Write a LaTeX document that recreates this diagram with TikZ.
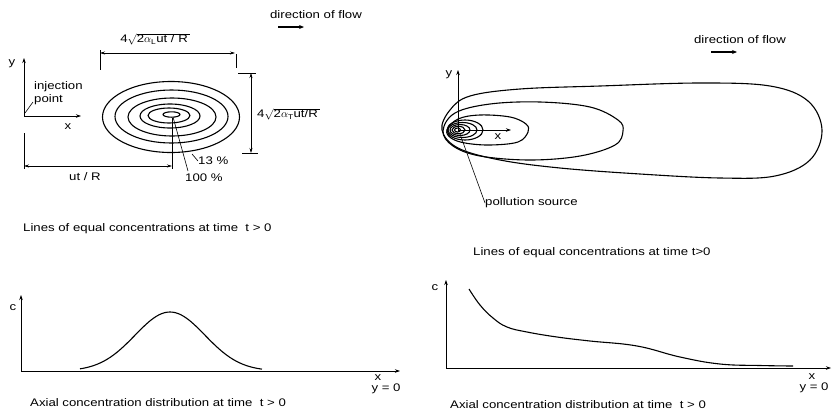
\documentclass[tikz,border=0pt]{standalone}
\usepackage{amsmath}
\usepackage{fontspec}
\setmainfont{Liberation Sans}[FakeStretch=1.2]
\usetikzlibrary{arrows.meta}
\begin{document}
\begin{tikzpicture}[x=1pt,y=-1pt]
\tikzset{
 lbl/.style={inner sep=0pt, font=\fontsize{11}{13}\selectfont},
 curve/.style={line width=1.1pt},
 dim/.style={line width=0.6pt},
 axis/.style={line width=0.7pt, -{Stealth[length=5pt,width=3.5pt]}},
 dimarr/.style={line width=0.6pt, {Stealth[length=5pt,width=3pt]}-{Stealth[length=5pt,width=3pt]}},
 leader/.style={line width=0.6pt},
 flowarrow/.style={line width=1.2pt, -{Stealth[length=5pt,width=4pt]}}
}
\useasboundingbox[fill=white] (0,0) rectangle (832,413);

% ================= LEFT TOP =================
\node[lbl] (dirL) at (316,15) {direction of flow};
\coordinate (faL1) at (278,27); \coordinate (faL2) at (304,27);
\draw[flowarrow] (faL1) -- (faL2);

\coordinate (oL) at (24,116);
\coordinate (yL) at (24,58);
\coordinate (xL) at (81,116);
\draw[axis] (oL) -- (yL);
\draw[axis] (oL) -- (xL);
\node[lbl] (ylabL) at (12,64) {y};
\node[lbl] (xlabL) at (68,127) {x};
\node[lbl, align=left, anchor=west] (inj) at (34,93.5) {injection\\point};
\coordinate (injend) at (33,102);
\draw[leader] (injend) -- (25,113);

\coordinate (ctrL) at (171,117);
\draw[curve] (ctrL) ellipse [x radius=68.5pt, y radius=35.5pt];
\draw[curve] (171.5,116.5) ellipse [x radius=56.5pt, y radius=26.5pt];
\draw[curve] (172,117) ellipse [x radius=44pt, y radius=19pt];
\draw[curve] (170,116) ellipse [x radius=30pt, y radius=12pt];
\draw[curve] (169,115.5) ellipse [x radius=21pt, y radius=7.5pt];
\draw[curve] (171.5,114.5) ellipse [x radius=8.5pt, y radius=2.7pt];

% top dimension
\coordinate (dT1) at (100,53); \coordinate (dT2) at (235,53);
\draw[dimarr] (dT1) -- (dT2);
\draw[dim] (100,50) -- (100,70);
\draw[dim] (236,54) -- (236,68);
\node[lbl] (aL) at (155,39) {4$\sqrt{\text{2}\alpha_{\text{\scriptsize L}}\text{ut / R}\,}$};

% right dimension
\coordinate (dR1) at (251,73); \coordinate (dR2) at (251,153);
\draw[dimarr] (dR1) -- (dR2);
\draw[dim] (238,73) -- (256,73);
\draw[dim] (242,153) -- (258,153);
\node[lbl, anchor=west] (aT) at (257,114) {4$\sqrt{\text{2}\alpha_{\text{\scriptsize T}}\text{ut/R}\,}$};

% ut/R dimension
\coordinate (dU1) at (24,166); \coordinate (dU2) at (172,166);
\draw[dimarr] (dU1) -- (dU2);
\draw[dim] (24,133) -- (24,169);
\draw[dim] (172,118) -- (172,169);
\node[lbl] (utR) at (85,177) {ut / R};

% percentage labels
\node[lbl, anchor=west] (p13) at (198,161) {13 \%};
\draw[leader] (192,154) -- (p13.west);
\node[lbl, anchor=west] (p100) at (185,178) {100 \%};
\draw[leader] (173,117) -- (188,171);

\node[lbl, anchor=west] (capL) at (23,229) {Lines of equal concentrations at time \ t > 0};

% ================= LEFT BOTTOM =================
\coordinate (o2) at (21,371);
\draw[axis] (o2) -- (21,295);
\draw[axis] (o2) -- (400,371);
\node[lbl] (c2) at (13,308) {c};
\node[lbl] (x2) at (378,378) {x};
\node[lbl] (y2) at (386,389) {y = 0};
\draw[curve] plot[domain=80:262, samples=90] (\x, {371-59*exp(-((\x-170)^2)/(2*35^2))});
\node[lbl, anchor=west] (capBL) at (30,403) {Axial concentration distribution at time \ t > 0};

% ================= RIGHT TOP =================
\node[lbl] (dirR) at (740,40) {direction of flow};
\coordinate (faR1) at (711,52); \coordinate (faR2) at (737,52);
\draw[flowarrow] (faR1) -- (faR2);

\coordinate (oR) at (458,130);
\draw[axis] (oR) -- (458,70);
\draw[axis] (oR) -- (511,130);
\node[lbl] (ylabR) at (449,75) {y};
\node[lbl] (xlabR) at (498,137) {x};

% plume contours
\draw[curve] plot[smooth cycle, tension=0.6] coordinates {
 (442,130) (450,110) (470,96) (520,89) (600,86) (700,83) (770,86) (808,101) (822,130)
 (810,160) (775,176) (720,178) (640,174) (560,168) (500,160) (458,148)};
\draw[curve] plot[smooth cycle, tension=0.6] coordinates {
 (443,131) (455,113) (490,104) (540,102) (590,107) (618,120) (623,131) (615,145)
 (580,156) (530,160) (480,156) (453,146)};
\draw[curve] plot[smooth cycle, tension=0.6] coordinates {
 (447,130) (458,119) (480,115) (510,117) (526,124) (528,132) (518,142) (490,145)
 (465,143) (451,138)};
\draw[curve] (465,130) ellipse [x radius=18pt, y radius=10pt];
\draw[curve] (462.5,130) ellipse [x radius=14.5pt, y radius=7.5pt];
\draw[curve] (460,130) ellipse [x radius=10pt, y radius=5.5pt];
\draw[curve] (458.5,130) ellipse [x radius=6.5pt, y radius=3.7pt];
\draw[curve] (457.5,130) ellipse [x radius=3pt, y radius=2pt];

\node[lbl, anchor=west] (poll) at (485,203) {pollution source};
\coordinate (pollsrc) at (460,134);
\draw[leader] (pollsrc) -- (poll.west);

\node[lbl, anchor=west] (capR) at (473,253) {Lines of equal concentrations at time t>0};

% ================= RIGHT BOTTOM =================
\coordinate (o4) at (446,368);
\draw[axis] (o4) -- (446,280);
\draw[axis] (o4) -- (831,368);
\node[lbl] (c4) at (435,288) {c};
\node[lbl] (x4) at (812,377) {x};
\node[lbl] (y4) at (814,388) {y = 0};
\draw[curve] plot[smooth, tension=0.7] coordinates {
 (469,289) (480,305) (493,318) (507,327) (527,332) (557,337) (590,341) (637,346)
 (680,357) (720,364) (760,365.5) (793,366)};
\node[lbl, anchor=west] (capBR) at (450,405) {Axial concentration distribution at time \ t > 0};
\end{tikzpicture}
\end{document}
